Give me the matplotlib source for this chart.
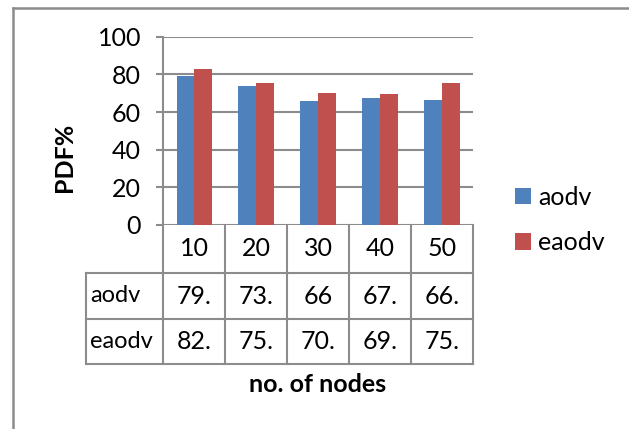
import matplotlib
matplotlib.use("Agg")
import matplotlib.pyplot as plt
from matplotlib.lines import Line2D
from matplotlib.patches import Patch

# ---- data ----
categories = ["10", "20", "30", "40", "50"]
series_names = ["aodv", "eaodv"]
aodv = [79.1, 73.8, 66, 67.4, 66.4]
eaodv = [82.7, 75.4, 70.1, 69.4, 75.4]
yticks = [0, 20, 40, 60, 80, 100]
xlabel = "no. of nodes"
ylabel = "PDF%"

colors = ["#4F81BD", "#C0504D"]
grid_c = "#8C8C8C"
FONT = "Lato"
FS = 18

plt.rcParams["font.family"] = [FONT, "DejaVu Sans"]

W, H = 629, 429
fig = plt.figure(figsize=(W / 100, H / 100), dpi=100)

def fx(px):
    return px / W

def fy(py):
    return 1 - py / H

ax_l, ax_r, ax_t, ax_b = 163.3, 473.0, 36.7, 225.0
ax = fig.add_axes([fx(ax_l), fy(ax_b), fx(ax_r) - fx(ax_l), fy(ax_t) - fy(ax_b)])

n = len(categories)
xs = list(range(n))
bw = 0.286
ax.bar([x - bw / 2 for x in xs], aodv, width=bw, color=colors[0], zorder=3)
ax.bar([x + bw / 2 for x in xs], eaodv, width=bw, color=colors[1], zorder=3)

ax.set_xlim(-0.5, n - 0.5)
ax.set_ylim(0, 100)
ax.set_yticks(yticks)
ax.set_yticklabels([str(t) for t in yticks], fontsize=FS)
ax.set_xticks([])
ax.tick_params(axis="y", length=7 * 0.72, width=1.5, color=grid_c, pad=11)
ax.yaxis.grid(True, color=grid_c, linewidth=1.5, zorder=0)
for s in ["top", "right", "bottom"]:
    ax.spines[s].set_visible(False)
ax.spines["left"].set_color(grid_c)
ax.spines["left"].set_linewidth(1.5)

# ---- data table drawn below the axis ----
trans = ax.get_xaxis_transform()
ph = ax_b - ax_t  # axes height in px
r1 = -(273 - ax_b) / ph
r2 = -(319 - ax_b) / ph
r3 = -(364 - ax_b) / ph
px_per_x = (ax_r - ax_l) / n
lab_left = -0.5 - (ax_l - 86) / px_per_x
lk = dict(color=grid_c, linewidth=1.5, transform=trans, clip_on=False, zorder=4)
for i in range(n + 1):
    ax.plot([i - 0.5, i - 0.5], [0, r3], **lk)
ax.plot([lab_left, lab_left], [r1, r3], **lk)
for yy in (r1, r2, r3):
    ax.plot([lab_left, n - 0.5], [yy, yy], **lk)


def fmt(v):
    return str(int(v)) if float(v).is_integer() else str(int(v)) + "."


for i, c in enumerate(categories):
    ax.text(i, r1 / 2, c, ha="center", va="center", fontsize=FS, transform=trans)
    ax.text(i, (r1 + r2) / 2, fmt(aodv[i]), ha="center", va="center", fontsize=FS, transform=trans)
    ax.text(i, (r2 + r3) / 2, fmt(eaodv[i]), ha="center", va="center", fontsize=FS, transform=trans)
lab_x = lab_left + 4 / px_per_x
ax.text(lab_x, (r1 + r2) / 2, series_names[0], ha="left", va="center", fontsize=FS - 1, transform=trans)
ax.text(lab_x, (r2 + r3) / 2, series_names[1], ha="left", va="center", fontsize=FS - 1, transform=trans)

# axis titles
fig.text(fx(318), fy(385), xlabel, ha="center", va="center", fontsize=FS, fontweight="bold")
fig.text(fx(64), fy(157), ylabel, ha="center", va="center", fontsize=FS, fontweight="bold", rotation=90)

# legend
handles = [Patch(facecolor=colors[0]), Patch(facecolor=colors[1])]
fig.legend(handles, series_names, loc="center left", bbox_to_anchor=(fx(515), fy(220)),
           frameon=False, fontsize=FS, handlelength=0.62, handleheight=0.62,
           handletextpad=0.3, labelspacing=0.9, borderaxespad=0, borderpad=0)

# outer chart border
bc = "#8C8C8C"
fig.add_artist(Line2D([fx(13), fx(13)], [fy(8), 0], color=bc, linewidth=1.8))
fig.add_artist(Line2D([fx(13), 1], [fy(8), fy(8)], color=bc, linewidth=1.8))

fig.savefig("out.png", dpi=100)
